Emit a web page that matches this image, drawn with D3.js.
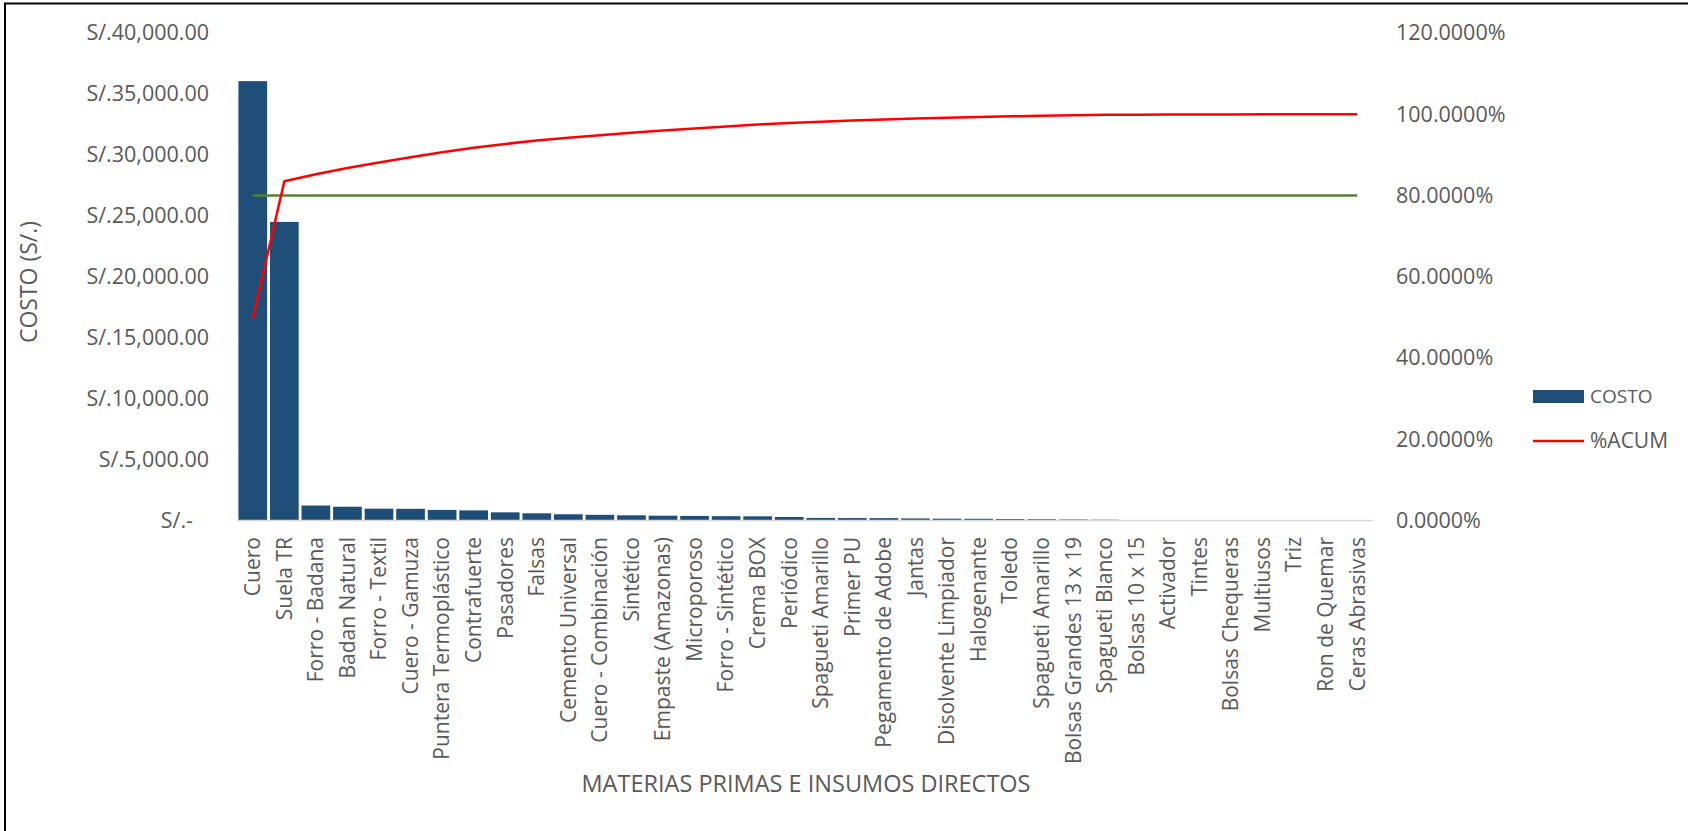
<!DOCTYPE html>
<html>
<head>
<meta charset="utf-8">
<script src="https://cdn.jsdelivr.net/npm/d3@7/dist/d3.min.js"></script>
<style>
  html, body { margin: 0; padding: 0; background: #fff; }
  svg { display: block; }
  text { font-family: "Open Sans", sans-serif; fill: #595959; }
</style>
</head>
<body>
<svg id="chart" width="1688" height="831"></svg>
<script>
// Pareto of direct raw materials and supplies (cost in soles)
const categories = [
  "Cuero", "Suela TR", "Forro - Badana", "Badan Natural", "Forro - Textil",
  "Cuero - Gamuza", "Puntera Termoplástico", "Contrafuerte", "Pasadores", "Falsas",
  "Cemento Universal", "Cuero - Combinación", "Sintético", "Empaste (Amazonas)",
  "Microporoso", "Forro - Sintético", "Crema BOX", "Periódico", "Spagueti Amarillo",
  "Primer PU", "Pegamento de Adobe", "Jantas", "Disolvente Limpiador", "Halogenante",
  "Toledo", "Spagueti Amarillo ", "Bolsas Grandes 13 x 19", "Spagueti Blanco",
  "Bolsas 10 x 15", "Activador", "Tintes", "Bolsas Chequeras", "Multiusos", "Triz",
  "Ron de Quemar", "Ceras Abrasivas"
];
const costo = [
  36050, 24500, 1230, 1130, 970, 960, 870, 830, 670, 590,
  510, 465, 425, 395, 375, 355, 345, 290, 210, 200,
  195, 170, 150, 140, 120, 105, 85, 65, 30, 20,
  15, 12, 10, 8, 6, 4
];
const meta = 0.80;                       // 80 % reference line
const costTicks = [0, 5000, 10000, 15000, 20000, 25000, 30000, 35000, 40000];
const pctTicks = [0, 0.2, 0.4, 0.6, 0.8, 1.0, 1.2];

// cumulative share
const total = d3.sum(costo);
let run = 0;
const acum = costo.map(v => (run += v) / total);

const svg = d3.select("#chart");

// frame
svg.append("path")
  .attr("d", "M5,831 V3.5 H1688")
  .attr("fill", "none").attr("stroke", "#000").attr("stroke-width", 2);

const plot = { left: 237, right: 1373, top: 33, bottom: 520.5 };

const x = d3.scaleBand()
  .domain(d3.range(categories.length))
  .range([plot.left, plot.right])
  .paddingInner(0.09).paddingOuter(0.045);

const yCost = d3.scaleLinear().domain([0, 40000]).range([plot.bottom, plot.top]);
const yPct = d3.scaleLinear().domain([0, 1.2]).range([plot.bottom, plot.top]);

// bars
svg.append("g").selectAll("rect")
  .data(costo)
  .join("rect")
  .attr("x", (d, i) => x(i))
  .attr("width", x.bandwidth())
  .attr("y", d => yCost(d))
  .attr("height", d => yCost(0) - yCost(d))
  .attr("fill", "#1F4E79");

// category axis line
svg.append("line")
  .attr("x1", plot.left).attr("x2", plot.right)
  .attr("y1", plot.bottom).attr("y2", plot.bottom)
  .attr("stroke", "#D9D9D9").attr("stroke-width", 1.5);

const cx = i => x(i) + x.bandwidth() / 2;

// 80 % line
svg.append("path")
  .datum(categories.map((c, i) => i))
  .attr("d", d3.line().x(i => cx(i)).y(() => yPct(meta)))
  .attr("fill", "none").attr("stroke", "#548235").attr("stroke-width", 2.5);

// cumulative line
svg.append("path")
  .datum(acum)
  .attr("d", d3.line().x((d, i) => cx(i)).y(d => yPct(d)))
  .attr("fill", "none").attr("stroke", "#FF0000").attr("stroke-width", 2.5)
  .attr("stroke-linejoin", "round");

// left axis
const fmtMoney = v => v === 0 ? "S/.-" : "S/." + d3.format(",.2f")(v);
const yAxisL = d3.axisLeft(yCost).tickValues(costTicks).tickFormat(fmtMoney).tickSize(0).tickPadding(0);
const gL = svg.append("g").attr("transform", "translate(209,0)").call(yAxisL);
gL.select(".domain").remove();
gL.selectAll("text").attr("font-size", 21.5).attr("font-family", "Open Sans").attr("fill", "#595959");
gL.selectAll(".tick").filter(d => d === 0).select("text").attr("dx", -16);

// right axis
const fmtPct = v => d3.format(".4f")(v * 100) + "%";
const yAxisR = d3.axisRight(yPct).tickValues(pctTicks).tickFormat(fmtPct).tickSize(0).tickPadding(0);
const gR = svg.append("g").attr("transform", "translate(1396,0)").call(yAxisR);
gR.select(".domain").remove();
gR.selectAll("text").attr("font-size", 21.5).attr("font-family", "Open Sans").attr("fill", "#595959");

// category labels
svg.append("g").selectAll("text")
  .data(categories)
  .join("text")
  .attr("transform", (d, i) => `translate(${cx(i)},537) rotate(-90)`)
  .attr("text-anchor", "end")
  .attr("dy", "0.35em")
  .attr("font-size", 21)
  .text(d => d.trim());

// axis titles
svg.append("text")
  .attr("transform", "translate(29,282) rotate(-90)")
  .attr("text-anchor", "middle").attr("dy", "0.35em")
  .attr("font-size", 23)
  .text("COSTO (S/.)");

svg.append("text")
  .attr("x", 806).attr("y", 784)
  .attr("text-anchor", "middle").attr("dy", "0.35em")
  .attr("font-size", 23.5)
  .text("MATERIAS PRIMAS E INSUMOS DIRECTOS");

// legend
const legend = svg.append("g");
legend.append("rect")
  .attr("x", 1533).attr("y", 390).attr("width", 51).attr("height", 13)
  .attr("fill", "#1F4E79");
legend.append("text")
  .attr("x", 1590).attr("y", 396.5).attr("dy", "0.35em")
  .attr("font-size", 19).text("COSTO");
legend.append("line")
  .attr("x1", 1533).attr("x2", 1584).attr("y1", 441).attr("y2", 441)
  .attr("stroke", "#FF0000").attr("stroke-width", 2.5);
legend.append("text")
  .attr("x", 1590).attr("y", 441).attr("dy", "0.35em")
  .attr("font-size", 21).text("%ACUM");
</script>
</body>
</html>
